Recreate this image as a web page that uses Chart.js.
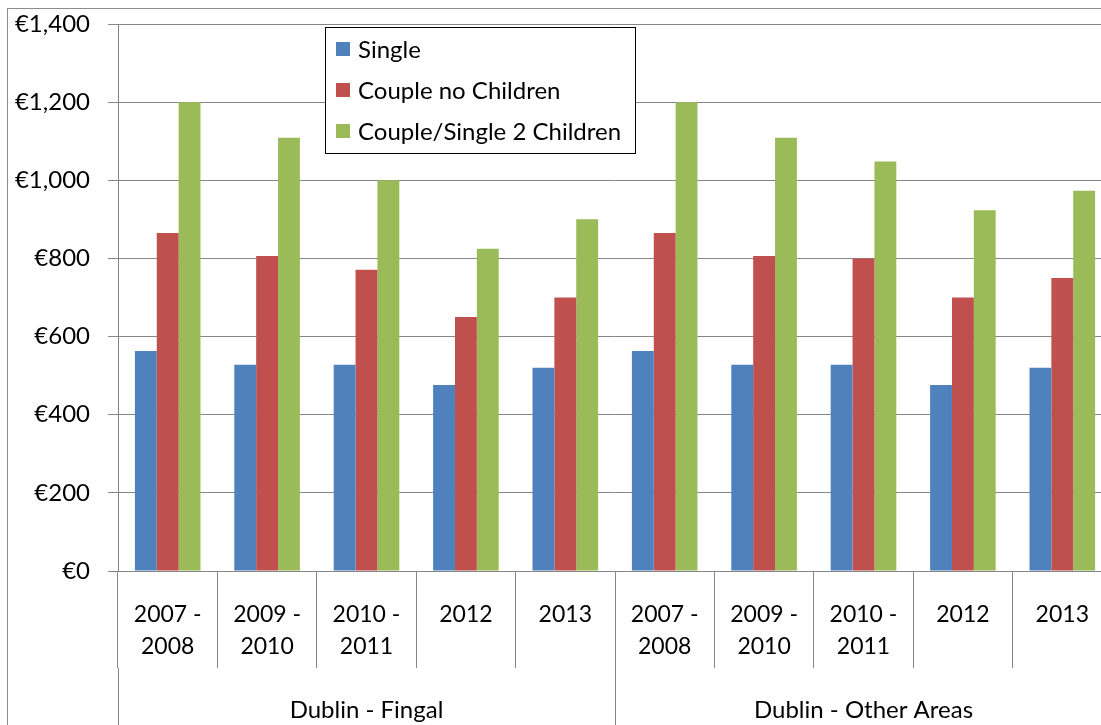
<!DOCTYPE html>
<html>
<head>
<meta charset="utf-8">
<script src="https://cdn.jsdelivr.net/npm/chart.js@4.4.1/dist/chart.umd.min.js"></script>
<style>
  html, body { margin: 0; padding: 0; background: #fff; overflow: hidden; }
  #wrap { position: relative; width: 1112px; height: 725px; }
  #frame { position: absolute; left: 7px; top: 8px; width: 1200px; height: 800px; border: 1px solid #8c8c8c; pointer-events: none; }
  canvas { position: absolute; left: 0; top: 0; }
</style>
</head>
<body>
<div id="wrap">
  <div id="frame"></div>
  <canvas id="c"></canvas>
</div>
<script>
const periods = ['2007 -|2008', '2009 -|2010', '2010 -|2011', '2012', '2013',
                 '2007 -|2008', '2009 -|2010', '2010 -|2011', '2012', '2013'];
const groups = ['Dublin - Fingal', 'Dublin - Other Areas'];
const seriesNames = ['Single', 'Couple no Children', 'Couple/Single 2 Children'];
const single   = [563, 528, 528, 476, 520, 563, 528, 528, 476, 520];
const couple   = [865, 806, 771, 650, 700, 865, 806, 800, 700, 750];
const children = [1200, 1109, 1000, 825, 900, 1200, 1109, 1048, 923, 973];
const colors = ['#4F81BD', '#C0504D', '#9BBB59'];

const FAMILY = 'Lato, "Open Sans", sans-serif';
const FONT = { family: FAMILY, size: 24 };
const YEAR_FONT = { family: FAMILY, size: 23, lineHeight: 32 / 23 };
const GROUP_FONT = { family: FAMILY, size: 24, lineHeight: 32 / 24 };
const GRID = '#868686';

// legend box drawn over the plot, like the Excel original
const legendBox = {
  id: 'legendBox',
  afterDraw(chart) {
    const { ctx } = chart;
    const x = 325, y = 27, w = 310, h = 126;
    ctx.save();
    ctx.fillStyle = '#fff';
    ctx.fillRect(x, y, w, h);
    ctx.strokeStyle = '#000';
    ctx.lineWidth = 1;
    ctx.strokeRect(x + 0.5, y + 0.5, w, h);
    ctx.font = `${FONT.size}px ${FONT.family}`;
    ctx.textBaseline = 'middle';
    chart.data.datasets.forEach((ds, i) => {
      const cy = y + 22 + i * 41;
      ctx.fillStyle = ds.backgroundColor;
      ctx.fillRect(x + 11, cy - 7, 14, 14);
      ctx.fillStyle = '#000';
      ctx.fillText(ds.label, x + 33, cy + 1);
    });
    ctx.restore();
  }
};

new Chart(document.getElementById('c'), {
  type: 'bar',
  data: {
    labels: periods.map(p => p.split('|')),
    datasets: [single, couple, children].map((d, i) => ({
      label: seriesNames[i],
      data: d,
      backgroundColor: colors[i],
      barPercentage: 1,
      categoryPercentage: 0.66
    }))
  },
  options: {
    responsive: true,
    maintainAspectRatio: false,
    animation: false,
    layout: { padding: { left: 0, top: 24, right: 0, bottom: 0 } },
    plugins: { legend: { display: false }, tooltip: { enabled: false } },
    scales: {
      y: {
        min: 0, max: 1400,
        ticks: {
          stepSize: 200, padding: 18, color: '#000', font: FONT,
          callback: v => '€' + v.toLocaleString('en-US')
        },
        grid: { color: GRID, tickLength: 10 },
        border: { color: GRID },
        afterFit: s => { s.width = 118; s.paddingTop = 0; s.paddingBottom = 0; }
      },
      x: {
        weight: 0,
        offset: true,
        grid: { offset: true, drawOnChartArea: false, tickLength: 97, color: GRID },
        border: { color: GRID },
        ticks: { padding: -69, color: '#000', font: YEAR_FONT, maxRotation: 0, autoSkip: false },
        afterFit: s => { s.height = 97; s.paddingLeft = 0; s.paddingRight = 0; }
      },
      x2: {
        type: 'category',
        position: 'bottom',
        weight: 1,
        labels: groups,
        offset: true,
        grid: { offset: true, drawOnChartArea: false, tickLength: 57, color: GRID },
        border: { display: false },
        ticks: { padding: -31, color: '#000', font: GROUP_FONT, maxRotation: 0, autoSkip: false },
        afterFit: s => { s.height = 57; s.paddingLeft = 0; s.paddingRight = 0; }
      }
    }
  },
  plugins: [legendBox]
});
</script>
</body>
</html>
